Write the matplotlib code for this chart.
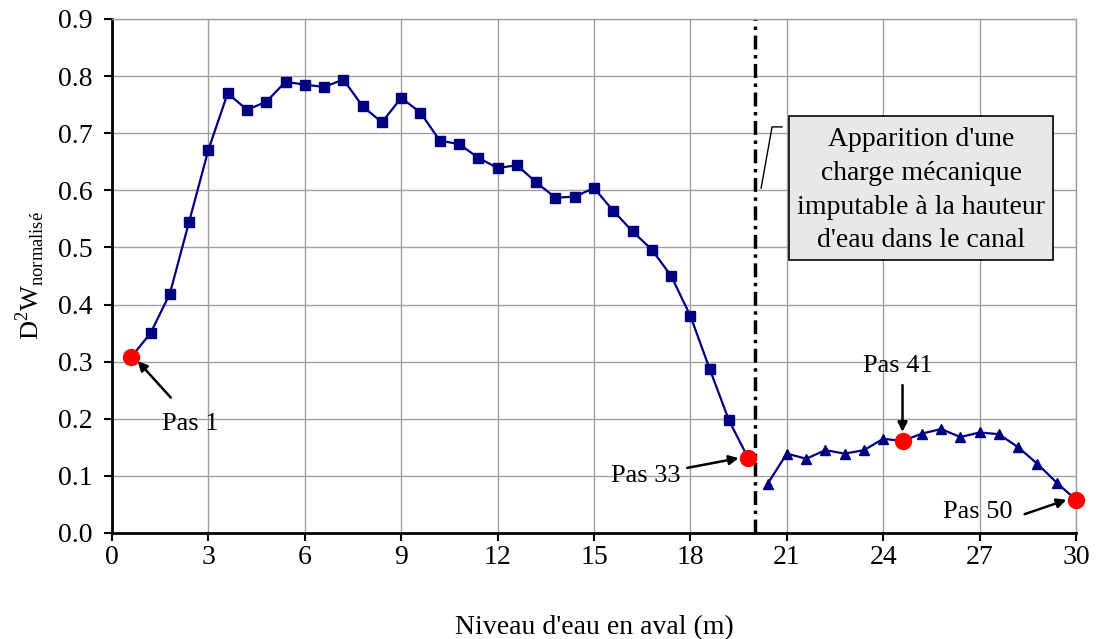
import numpy as np
import matplotlib
matplotlib.use("Agg")
import matplotlib.pyplot as plt
from matplotlib.patches import Rectangle

# ---------- data ----------
steps = np.arange(1, 51)
water_level = 0.6 * steps  # Niveau d'eau en aval (m)

d2w_before = [0.308, 0.350, 0.419, 0.545, 0.671, 0.770, 0.741, 0.755, 0.790, 0.785,
              0.781, 0.794, 0.747, 0.719, 0.762, 0.736, 0.687, 0.681, 0.657, 0.639,
              0.644, 0.614, 0.587, 0.589, 0.604, 0.564, 0.528, 0.496, 0.450, 0.380,
              0.287, 0.197, 0.131]
d2w_after = [0.086, 0.139, 0.130, 0.145, 0.139, 0.145, 0.165, 0.161, 0.174, 0.182,
             0.168, 0.176, 0.173, 0.150, 0.121, 0.088, 0.058]

highlight_steps = [1, 33, 41, 50]
x_ticks = list(range(0, 31, 3))
y_ticks = [round(0.1 * i, 1) for i in range(10)]
change_level = 20

plt.rcParams['font.family'] = ['Liberation Serif', 'DejaVu Serif']
plt.rcParams['mathtext.fontset'] = 'custom'
plt.rcParams['mathtext.rm'] = 'Liberation Serif'

navy = "#000080"
all_d2w = np.array(d2w_before + d2w_after)

fig = plt.figure(figsize=(10.97, 6.39), dpi=100)
ax = fig.add_axes([0.1021, 0.1659, 0.8788, 0.8044])

n1 = len(d2w_before)
ax.plot(water_level[:n1], d2w_before, color=navy, lw=1.6, marker="s", ms=6.5, zorder=3)
ax.plot(water_level[n1:], d2w_after, color=navy, lw=1.6, marker="^", ms=7.5, zorder=3)

idx = [s - 1 for s in highlight_steps]
ax.plot(water_level[idx], all_d2w[idx], ls="none", marker="o", ms=11.5,
        color="#ff0000", zorder=4, clip_on=False)

ax.axvline(change_level, color="black", lw=2.5, ls=(0, (4, 1.6, 1, 1.6)), zorder=2)

# ---------- annotations ----------
arrow = dict(arrowstyle="-|>", color="black", lw=1.8, mutation_scale=14, shrinkA=0, shrinkB=0)
ax.annotate("", xy=(0.8, 0.301), xytext=(1.83, 0.237), arrowprops=arrow)
ax.text(2.45, 0.190, "Pas 1", ha="center", va="center", fontsize=19)
ax.annotate("", xy=(19.5, 0.131), xytext=(17.9, 0.114), arrowprops=arrow)
ax.text(16.6, 0.100, "Pas 33", ha="center", va="center", fontsize=19)
ax.annotate("", xy=(24.6, 0.177), xytext=(24.6, 0.259), arrowprops=arrow)
ax.text(24.45, 0.292, "Pas 41", ha="center", va="center", fontsize=19)
ax.annotate("", xy=(29.7, 0.058), xytext=(28.4, 0.033), arrowprops=arrow)
ax.text(26.95, 0.036, "Pas 50", ha="center", va="center", fontsize=19)

# callout box
ax.add_patch(Rectangle((21.07, 0.478), 8.22, 0.252, facecolor="#e8e8e8",
                       edgecolor="black", lw=1.2, zorder=5))
ax.plot([20.2, 20.54, 20.85], [0.604, 0.711, 0.711], color="black", lw=1, zorder=5)
ax.text(25.18, 0.600, "Apparition d'une\ncharge mécanique\nimputable à la hauteur\nd'eau dans le canal",
        ha="center", va="center", fontsize=20, zorder=6, linespacing=1.45)

# ---------- axes ----------
ax.set_xlim(0, 30)
ax.set_ylim(0, 0.9)
ax.set_xticks(x_ticks)
ax.set_yticks(y_ticks)
ax.set_yticklabels([f"{v:.1f}" for v in y_ticks])
ax.grid(True, color="#a0a0a0", lw=1)
ax.set_axisbelow(True)
for s in ["left", "bottom"]:
    ax.spines[s].set_linewidth(2)
    ax.spines[s].set_color("black")
for s in ["top", "right"]:
    ax.spines[s].set_color("#a0a0a0")
    ax.spines[s].set_linewidth(1)
ax.tick_params(direction="out", length=6, width=1.5, labelsize=20)
ax.tick_params(axis="y", pad=8)
ax.tick_params(axis="x", pad=3)
ax.set_xlabel("Niveau d'eau en aval (m)", fontsize=20, labelpad=32)
ax.set_ylabel(r"D$^2$W$_{\mathrm{normalisé}}$", fontsize=19, labelpad=8)

fig.savefig("out.png", dpi=100)
